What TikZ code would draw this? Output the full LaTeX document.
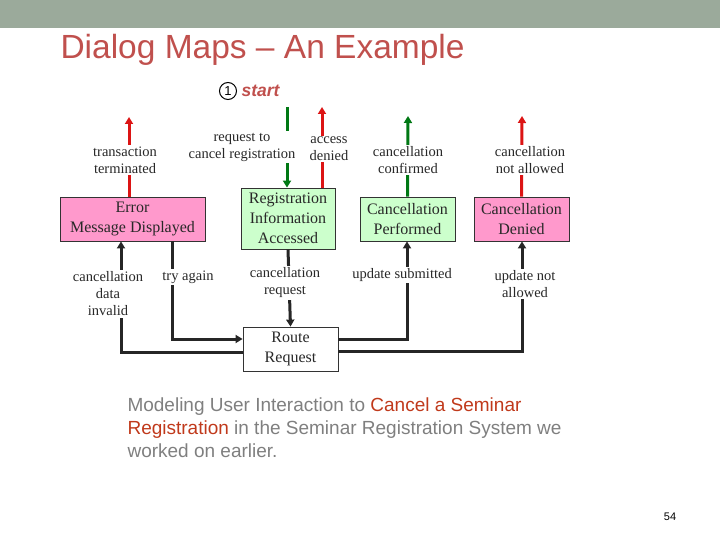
\documentclass[tikz,border=0pt]{standalone}
\usepackage{fontspec}
\setmainfont{Liberation Serif}
\newfontfamily\arial{Liberation Sans}
\usetikzlibrary{arrows.meta}
\definecolor{bar}{RGB}{155,170,155}
\definecolor{ttl}{RGB}{192,80,77}
\definecolor{pinkb}{RGB}{255,153,204}
\definecolor{greenb}{RGB}{204,255,204}
\definecolor{redl}{RGB}{220,20,20}
\definecolor{greenl}{RGB}{0,120,20}
\definecolor{capg}{RGB}{127,127,127}
\definecolor{caprd}{RGB}{192,57,27}
\definecolor{txt}{RGB}{40,40,40}
\tikzset{
 box/.style={draw=black!80,line width=0.8pt,align=center,inner sep=0pt,text=txt,font=\fontsize{16}{20}\selectfont},
 lbl/.style={fill=white,align=center,inner sep=1.5pt,text=txt,font=\fontsize{14.5}{17}\selectfont},
 blk/.style={draw=black!85,line width=3pt,-{Triangle[length=7pt,width=8pt]}},
 red/.style={draw=redl,line width=3pt,-{Triangle[length=7pt,width=8pt]}},
 grn/.style={draw=greenl,line width=3pt,-{Triangle[length=7pt,width=8pt]}},
}
\begin{document}
\begin{tikzpicture}[x=1pt,y=-1pt]
\useasboundingbox (0,0) rectangle (720,540);
\fill[bar] (0,0) rectangle (720,28);
\node[anchor=west,text=ttl,font=\arial\fontsize{33.5}{36}\selectfont] (title) at (57,50) {Dialog Maps – An Example};
% boxes
\node[box,fill=pinkb,minimum width=145pt,minimum height=44pt] (err) at (132.5,219) {Error\\Message Displayed};
\node[box,fill=greenb,minimum width=94pt,minimum height=61pt] (reg) at (288,218.5) {Registration\\Information\\Accessed};
\node[box,fill=greenb,minimum width=95pt,minimum height=44pt] (perf) at (407.5,219) {Cancellation\\Performed};
\node[box,fill=pinkb,minimum width=95pt,minimum height=44pt] (den) at (521.5,219) {Cancellation\\Denied};
\node[box,fill=white,minimum width=95pt,minimum height=44pt] (route) at (290.5,349) {Route\\Request};
% start
\node[circle,draw=black,line width=1pt,inner sep=0pt,minimum size=17pt,font=\arial\fontsize{13}{13}\selectfont] (one) at (228,91) {1};
\node[anchor=west,text=ttl,font=\arial\bfseries\itshape\fontsize{17.5}{17}\selectfont] (start) at (238,91) {start};
\coordinate (s0) at (287,107);
\coordinate (t1) at (129,117);
\coordinate (t2) at (322,107);
\coordinate (t3) at (408,116);
\coordinate (t4) at (522,116);
% connectors
\draw[grn] (s0) -- (s0 |- reg.north);
\draw[red] ([xshift=-3.5pt]err.north) -- (t1);
\draw[red] (t2 |- reg.north) -- (t2);
\draw[grn] (perf.north) -- (t3);
\draw[red] (den.north) -- (t4);
\draw[blk] (reg.south) -- (route.north);
\coordinate (a1) at (172,339);
\coordinate (a2) at (121,352);
\coordinate (a3) at (407,339);
\coordinate (a4) at (522,351);
\draw[blk] (a1 |- err.south) -- (a1) -- (a1 -| route.west);
\draw[blk] (a2 -| route.west) -- (a2) -- (a2 |- err.south);
\draw[blk] (a3 -| route.east) -- (a3) -- (a3 |- perf.south);
\draw[blk] (a4 -| route.east) -- (a4) -- (a4 |- den.south);
% labels
\node[lbl] (l1) at (125,160) {transaction\\terminated};
\node[lbl] (l2) at (242,147) {request to\\cancel registration};
\node[lbl] (l3) at (329,149) {access\\denied};
\node[lbl] (l4) at (408,160) {cancellation\\confirmed};
\node[lbl] (l5) at (530,160) {cancellation\\not allowed};
\node[lbl] (l6) at (108,294) {cancellation\\data\\invalid};
\node[lbl] (l7) at (188,277) {try again};
\node[lbl] (l8) at (285,283) {cancellation\\request};
\node[lbl] (l9) at (402,275) {update submitted};
\node[lbl] (l10) at (525,284) {update not\\allowed};
% caption
\node[anchor=north west,align=left,text=capg,font=\arial\fontsize{19}{23}\selectfont] (cap) at (124,394) {Modeling User Interaction to \textcolor{caprd}{Cancel a Seminar}\\\textcolor{caprd}{Registration} in the Seminar Registration System we\\worked on earlier.};
\node[font=\arial\fontsize{11}{11}\selectfont] (pg) at (670,517) {54};
\end{tikzpicture}
\end{document}
